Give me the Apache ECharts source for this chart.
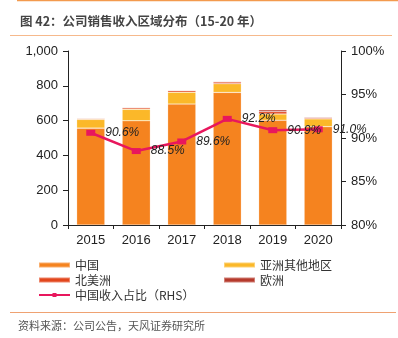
<!DOCTYPE html>
<html>
<head>
<meta charset="utf-8">
<script src="https://cdn.jsdelivr.net/npm/echarts@6/dist/echarts.min.js"></script>
<style>
  html, body { margin: 0; padding: 0; background: #fff; }
  #chart { width: 398px; height: 338px; }
</style>
</head>
<body>
<div id="chart"></div>
<script>
// Revenue by region, 2015-2020 (stacked), plus China's share on the right axis
const years = ['2015', '2016', '2017', '2018', '2019', '2020'];
const china = [557, 599, 695, 762, 602, 565];
const asiaOther = [50, 66, 68, 50, 36, 45];
const northAmerica = [5, 8, 9, 10, 13, 6];
const europe = [3, 4, 4, 4, 11, 5];
const chinaShare = [90.6, 88.5, 89.6, 92.2, 90.9, 91.0];

const leftTicks = { min: 0, max: 1000, interval: 200 };
const rightTicks = { min: 80, max: 100, interval: 5 };

const names = ['中国', '亚洲其他地区', '北美洲', '欧洲', '中国收入占比（RHS）'];
const colors = ['#F5831F', '#FBB829', '#E2461C', '#B63A2C', '#E8175D'];

const axisColor = '#222';
const numFont = 'Arial, "Liberation Sans", sans-serif';
const cjkFont = '"Noto Sans CJK SC", sans-serif';

const chart = echarts.init(document.getElementById('chart'), null, { renderer: 'canvas' });

function bar(name, data, color) {
  return {
    name, type: 'bar', stack: 'rev', data, barWidth: '62%',
    itemStyle: { color, borderColor: 'rgba(255,255,255,0.35)', borderWidth: 0.6 },
    z: 2
  };
}

chart.setOption({
  animation: false,
  backgroundColor: '#fff',
  grid: { left: 68, right: 57, top: 51, bottom: 113 },
  graphic: [
    { type: 'line', shape: { x1: 17, y1: 0.5, x2: 398, y2: 0.5 }, style: { stroke: '#F39A4E', lineWidth: 1.5 } },
    { type: 'text', left: 20, top: 15,
      style: { text: '图 42：公司销售收入区域分布（15-20 年）', fill: '#444', font: '600 12.5px ' + cjkFont } },
    { type: 'line', shape: { x1: 10, y1: 35.5, x2: 392, y2: 35.5 }, style: { stroke: '#F6B98C', lineWidth: 1 } },
    { type: 'line', shape: { x1: 10, y1: 312.5, x2: 396, y2: 312.5 }, style: { stroke: '#EFA272', lineWidth: 1 } },
    { type: 'text', left: 18, top: 320,
      style: { text: '资料来源：公司公告，天风证券研究所', fill: '#555', font: '11px ' + cjkFont } }
  ],
  legend: [
    {
      left: 33, top: 254, orient: 'vertical', itemWidth: 31, itemHeight: 5, itemGap: 3,
      data: [{ name: names[0], icon: 'rect' }, { name: names[2], icon: 'rect' }, { name: names[4] }],
      textStyle: { fontFamily: cjkFont, fontSize: 12, color: '#333', padding: [0, 0, 0, 0] }
    },
    {
      left: 218, top: 254, orient: 'vertical', itemWidth: 31, itemHeight: 5, itemGap: 3,
      data: [{ name: names[1], icon: 'rect' }, { name: names[3], icon: 'rect' }],
      textStyle: { fontFamily: cjkFont, fontSize: 12, color: '#333', padding: [0, 0, 0, 0] }
    }
  ],
  xAxis: {
    type: 'category', data: years,
    axisLine: { lineStyle: { color: axisColor, width: 1 } },
    axisTick: { show: true, length: 4, lineStyle: { color: axisColor } },
    axisLabel: { color: '#222', fontFamily: numFont, fontSize: 13, margin: 9 }
  },
  yAxis: [
    {
      type: 'value', ...leftTicks, position: 'left',
      axisLine: { show: true, lineStyle: { color: axisColor } },
      axisTick: { show: true, length: 5, lineStyle: { color: axisColor } },
      splitLine: { show: false },
      axisLabel: {
        color: '#222', fontFamily: numFont, fontSize: 13, margin: 10,
        formatter: v => v.toLocaleString('en-US')
      }
    },
    {
      type: 'value', ...rightTicks, position: 'right',
      axisLine: { show: true, lineStyle: { color: axisColor } },
      axisTick: { show: true, length: 5, lineStyle: { color: axisColor } },
      splitLine: { show: false },
      axisLabel: { color: '#222', fontFamily: numFont, fontSize: 13, margin: 10, formatter: '{value}%' }
    }
  ],
  series: [
    bar(names[0], china, colors[0]),
    bar(names[1], asiaOther, colors[1]),
    bar(names[2], northAmerica, colors[2]),
    bar(names[3], europe, colors[3]),
    {
      name: names[4], type: 'line', yAxisIndex: 1, data: chinaShare,
      symbol: 'rect', symbolSize: [9, 6], z: 5,
      lineStyle: { color: colors[4], width: 2.5 },
      itemStyle: { color: colors[4] },
      label: {
        show: true, position: 'right', distance: 10,
        formatter: p => p.value.toFixed(1) + '%',
        color: '#222', fontStyle: 'italic', fontFamily: numFont, fontSize: 12
      }
    }
  ]
});
</script>
</body>
</html>
